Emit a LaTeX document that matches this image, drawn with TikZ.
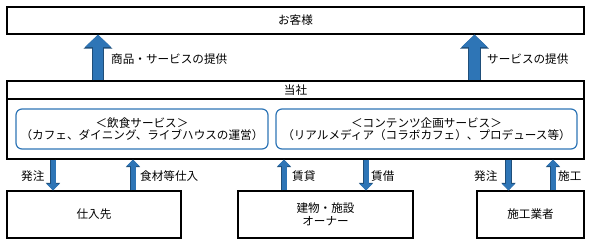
\documentclass[tikz,border=0pt]{standalone}
\usepackage{fontspec}
\setmainfont{Noto Sans CJK JP}
\usepackage{tikz}
\usetikzlibrary{arrows.meta,positioning,calc}
\usepackage{xcolor}
\definecolor{flowblue}{HTML}{2E75B6}
\definecolor{flowdark}{HTML}{1F4E79}

\begin{document}
\begin{tikzpicture}[x=1pt,y=-1pt,every node/.style={font=\fontsize{11.6}{12.6}\selectfont,align=center},partybox/.style={draw,line width=1.3pt,minimum height=47pt},svcbox/.style={draw=flowblue,line width=1.2pt,rounded corners=6pt,minimum height=40pt,inner sep=0pt},lbl/.style={anchor=west,inner sep=0pt},bigarrow/.style={line width=10.5pt,flowblue,-{Triangle[length=12.5pt,width=25.5pt]},preaction={draw=flowdark,line width=12.5pt,-{Triangle[length=14pt,width=28pt]}}},smallarrow/.style={line width=5pt,flowblue,-{Triangle[length=6.5pt,width=12.5pt]},preaction={draw=flowdark,line width=6.5pt,-{Triangle[length=7.5pt,width=14pt]}}}]
\useasboundingbox (0,0) rectangle (591,245);
\node[draw,line width=1.3pt,minimum width=577pt,minimum height=27pt] (cust) at (295.5,20.5) {お客様};
\node[draw,line width=1.3pt,minimum width=577pt,minimum height=78pt] (comp) at (295.5,120) {}; \node (compname) at (295.5,90) {当社};
\draw[line width=1.3pt] (comp.west |- 0,99) -- (comp.east |- 0,99);
\node[svcbox,minimum width=252pt] (food) at (142,129) {＜飲食サービス＞\\（カフェ、ダイニング、ライブハウスの運営）}; \node[svcbox,minimum width=301pt] (content) at (426.5,129) {＜コンテンツ企画サービス＞\\（リアルメディア（コラボカフェ）、プロデュース等）};
\node[partybox,minimum width=174pt] (supplier) at (94,214.5) {仕入先}; \node[partybox,minimum width=175pt] (owner) at (325.5,214.5) {建物・施設\\オーナー}; \node[partybox,minimum width=107pt] (builder) at (530.5,214.5) {施工業者};
% block arrows up to the customers
\coordinate (a1) at (98,0); \coordinate (a2) at (474.5,0);
\draw[bigarrow] (comp.north -| a1) -- (cust.south -| a1); \draw[bigarrow] (comp.north -| a2) -- (cust.south -| a2);
\node[lbl] (l1) at (111,59) {商品・サービスの提供}; \node[lbl] (l2) at (487,59) {サービスの提供};
% small arrows to the partners
\coordinate (b1) at (53,0); \coordinate (b2) at (133,0); \coordinate (b3) at (284,0); \coordinate (b4) at (366,0); \coordinate (b5) at (508.5,0); \coordinate (b6) at (553,0);
\draw[smallarrow] (comp.south -| b1) -- (supplier.north -| b1); \draw[smallarrow] (supplier.north -| b2) -- (comp.south -| b2); \draw[smallarrow] (owner.north -| b3) -- (comp.south -| b3); \draw[smallarrow] (comp.south -| b4) -- (owner.north -| b4); \draw[smallarrow] (comp.south -| b5) -- (builder.north -| b5); \draw[smallarrow] (builder.north -| b6) -- (comp.south -| b6);
\node[lbl] (order1) at (21,176) {発注}; \node[lbl] (buy) at (140,176) {食材等仕入}; \node[lbl] (lend) at (292,176) {賃貸}; \node[lbl] (rent) at (371,176) {賃借}; \node[lbl] (order2) at (474,176) {発注}; \node[lbl] (build) at (558,176) {施工};
\end{tikzpicture}
\end{document}
